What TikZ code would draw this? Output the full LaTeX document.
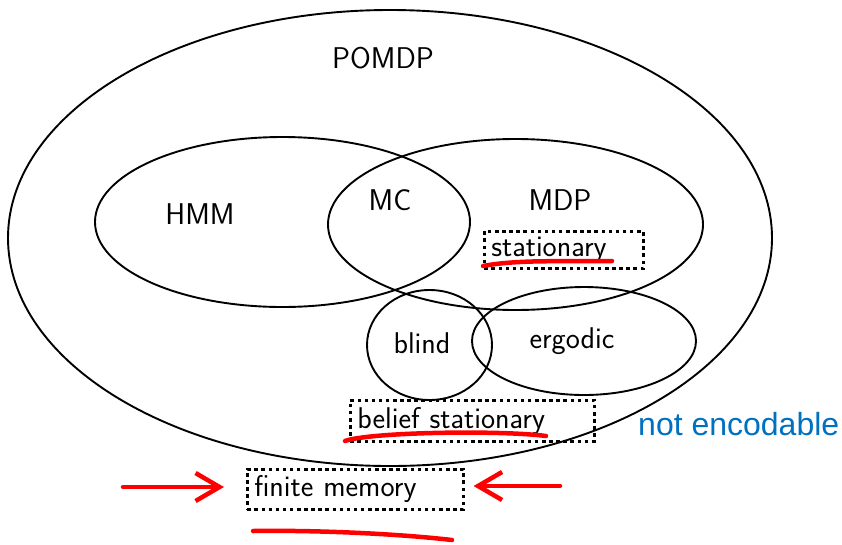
\documentclass[tikz,border=0pt]{standalone}
\usepackage{fontspec}
\newfontfamily\plainsans{Liberation Sans}
\usetikzlibrary{shapes.geometric,arrows.meta}
\definecolor{noteblue}{RGB}{0,112,192}
\tikzset{
  setbox/.style={ellipse,draw,line width=1.9pt,inner sep=0pt,minimum width=#1},
  lbl/.style={font=\sffamily\fontsize{30}{36}\selectfont,inner sep=0pt},
  tagbox/.style={draw,line width=2.6pt,dash pattern=on 3.5pt off 3.6pt,
    font=\sffamily\fontsize{30}{36}\selectfont,align=left,inner xsep=7pt,
    inner ysep=0pt,anchor=north west},
  redstroke/.style={red,line width=4.5pt,line cap=round,line join=round},
  redarrow/.style={redstroke,-{Straight Barb[length=24pt,width=28pt,line width=4.5pt]}}
}
\begin{document}
\begin{tikzpicture}[x=1pt,y=-1pt]
\useasboundingbox (0,0) rectangle (842,544);
% nested model classes
\node[setbox=764pt,minimum height=456pt] (pomdp) at (390,238) {};
\node[setbox=375pt,minimum height=170pt] (hmm) at (282.5,222) {};
\node[setbox=375pt,minimum height=171pt] (mdp) at (515.5,224.5) {};
\node[setbox=125pt,minimum height=110pt] (blind) at (429.5,345) {};
\node[setbox=224pt,minimum height=108pt] (ergodic) at (584,341) {};
% class names
\node[lbl] (tpomdp) at (383,58) {POMDP};
\node[lbl] (thmm) at (200,214) {HMM};
\node[lbl] (tmc) at (390,200) {MC};
\node[lbl] (tmdp) at (560,200) {MDP};
\node[lbl] (tblind) at (422,343) {blind};
\node[lbl] (tergodic) at (572,341) {ergodic};
% dotted tags
\node[tagbox,text width=145pt,minimum height=37pt] (stat) at (483,230) {stationary};
\node[tagbox,text width=230pt,minimum height=41pt] (bstat) at (349,399) {belief stationary};
\node[tagbox,text width=202pt,minimum height=40pt] (fmem) at (246,468) {finite memory};
\node[font=\plainsans\fontsize{32}{38}\selectfont,text=noteblue,inner sep=0pt,anchor=west] (nenc) at (638,424) {not encodable};
% red annotations
\coordinate (la) at (123,487);
\coordinate (ra) at (560,486);
\draw[redarrow,shorten >=22pt] (la) -- (fmem.west |- la);
\draw[redarrow,shorten >=9pt] (ra) -- (fmem.east |- ra);
\coordinate (su1) at (483,266);
\coordinate (su2) at (612,261);
\draw[redstroke] (su1) .. controls (520,259) and (570,262) .. (su2);
\coordinate (bu1) at (345,441);
\coordinate (bu2) at (546,436);
\draw[redstroke] (bu1) .. controls (370,432) and (500,430) .. (bu2);
\coordinate (fu1) at (253,531);
\coordinate (fu2) at (452,540);
\draw[redstroke] (fu1) .. controls (320,530) and (400,534) .. (fu2);
\end{tikzpicture}
\end{document}
